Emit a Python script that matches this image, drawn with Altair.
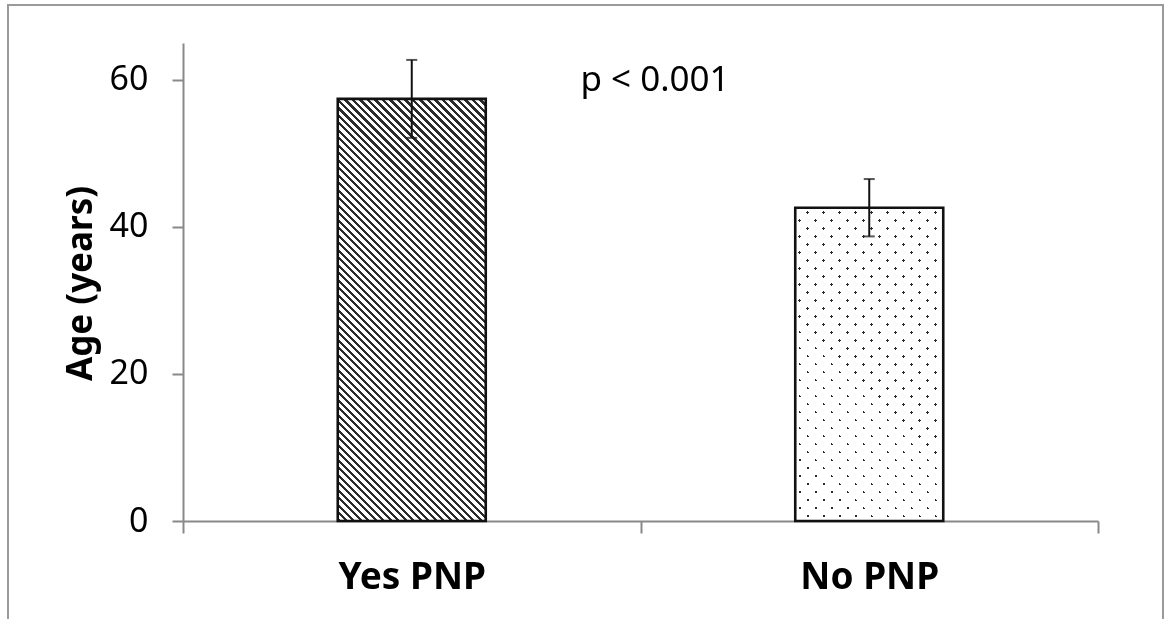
import math
import altair as alt
import pandas as pd

# ---- data ----
categories = ["Yes PNP", "No PNP"]
mean_age = [57.4, 42.6]
sd_age = [5.3, 3.9]
y_ticks = [0, 20, 40, 60]
y_max = 65
p_label = ["p < 0.001"]
p_label_y = [60]

# ---- layout / style ----
PLOT_W, PLOT_H = 915, 478
BAR_W = 148
FONT = "Noto Sans"
AXIS_GRAY = "#898989"

df = pd.DataFrame({"group": categories, "age": mean_age, "sd": sd_age})
df["lo"] = df["age"] - df["sd"]
df["hi"] = df["age"] + df["sd"]
ann = pd.DataFrame({"label": p_label, "y": p_label_y})

px_per_unit = PLOT_H / y_max


def stripes(w, h, period, dark, color_dark, color_light="#ffffff", direction="back"):
    """Linear gradient that draws 45-degree stripes inside a w x h box."""
    r = h / w
    s = (1 + r) / (1 + r * r)
    if direction == "back":  # "\" lines
        x1, y1, x2, y2 = 0, 1, s, 1 - s * r
    else:  # "/" lines
        x1, y1, x2, y2 = 0, 0, s, s * r
    L = (w + h) / math.sqrt(2)
    stops = []
    k = 0
    while True:
        a = k * period / L
        if a >= 1:
            break
        b = min((k * period + dark) / L, 1)
        stops += [
            {"offset": round(a, 6), "color": color_light},
            {"offset": round(a, 6), "color": color_dark},
            {"offset": round(b, 6), "color": color_dark},
            {"offset": round(b, 6), "color": color_light},
        ]
        k += 1
    return {"gradient": "linear", "x1": x1, "y1": y1, "x2": x2, "y2": y2, "stops": stops}


h1 = mean_age[0] * px_per_unit
h2 = mean_age[1] * px_per_unit
hatch = stripes(BAR_W, h1, 5.3, 2.3, "#2b2b2b", direction="back")
dotsA = stripes(BAR_W, h2, 11.3, 2.0, "#2a2a2a", direction="back")
dotsB = stripes(BAR_W, h2, 11.3, 2.0, "#2a2a2a", direction="fwd")

x_enc = alt.X(
    "group:N",
    sort=categories,
    scale=alt.Scale(domain=categories, paddingInner=0, paddingOuter=0),
    axis=alt.Axis(
        title=None,
        labelAngle=0,
        labelFontSize=37,
        labelFontWeight="bold",
        labelBaseline="alphabetic",
        tickSize=12,
        tickBand="extent",
        labelPadding=55,
    ),
)


def y_enc(field):
    return alt.Y(
        field,
        scale=alt.Scale(domain=[0, y_max], nice=False, zero=True),
        title="Age (years)",
        axis=alt.Axis(
            values=y_ticks,
            tickSize=11,
            labelPadding=24,
            labelFontSize=34,
            titleFontSize=35,
            titleFontWeight="bold",
            titleX=-103,
            titleY=240,
            titleBaseline="middle",
            titleAlign="center",
        ),
    )


base = alt.Chart(df)

frame = alt.Chart(pd.DataFrame({"f": [0]})).mark_rect(
    fill="transparent", stroke="#9a9a9a", strokeWidth=2
).encode(
    x=alt.value(-175), x2=alt.value(980), y=alt.value(-38), y2=alt.value(600)
)

bar_yes = base.transform_filter(alt.datum.group == categories[0]).mark_bar(
    width=BAR_W, fill=hatch
).encode(x=x_enc, y=y_enc("age:Q"))

bar_no_a = base.transform_filter(alt.datum.group == categories[1]).mark_bar(
    width=BAR_W, fill=dotsA
).encode(x=x_enc, y=y_enc("age:Q"))

bar_no_b = base.transform_filter(alt.datum.group == categories[1]).mark_bar(
    width=BAR_W, fill=dotsB, blend="lighten"
).encode(x=x_enc, y=y_enc("age:Q"))

outline = base.mark_bar(
    width=BAR_W, fill="transparent", stroke="#111111", strokeWidth=2.6
).encode(x=x_enc, y=y_enc("age:Q"))

err = base.mark_rule(color="#111111", strokeWidth=2).encode(
    x=x_enc, y=y_enc("lo:Q"), y2="hi:Q"
)
cap_lo = base.mark_tick(color="#111111", size=11, thickness=2).encode(
    x=x_enc, y=y_enc("lo:Q")
)
cap_hi = base.mark_tick(color="#111111", size=11, thickness=2).encode(
    x=x_enc, y=y_enc("hi:Q")
)

ptext = alt.Chart(ann).mark_text(
    font=FONT, fontSize=35, color="black", align="center", baseline="middle"
).encode(x=alt.value(472), y=y_enc("y:Q"), text="label:N")

chart = (
    alt.layer(frame, bar_yes, bar_no_a, bar_no_b, outline, err, cap_lo, cap_hi, ptext)
    .properties(
        width=PLOT_W,
        height=PLOT_H,
        autosize=alt.AutoSizeParams(type="none"),
        padding={"left": 183, "top": 43, "right": 71, "bottom": 98},
        background="white",
    )
    .configure_view(stroke=None)
    .configure_axis(
        grid=False,
        domainColor=AXIS_GRAY,
        tickColor=AXIS_GRAY,
        domainWidth=2,
        tickWidth=2,
        labelFont=FONT,
        titleFont=FONT,
        labelColor="black",
        titleColor="black",
    )
)

chart.save("out.html", embed_options={"renderer": "svg", "actions": False})
